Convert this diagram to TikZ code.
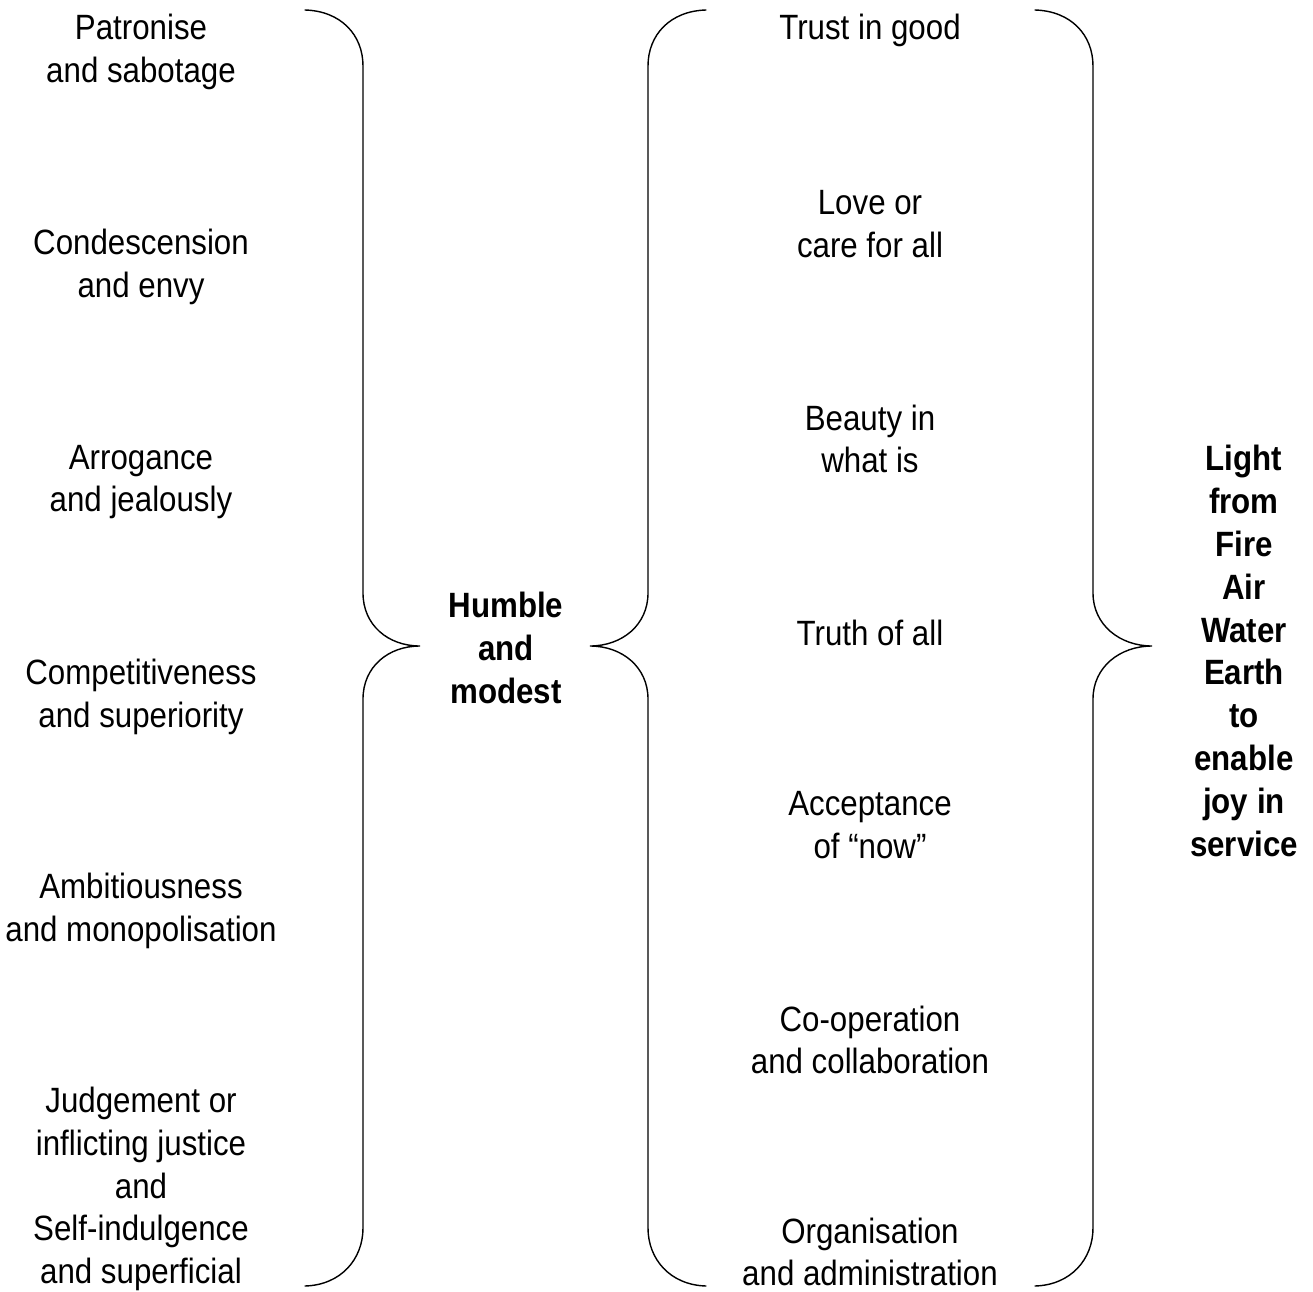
\documentclass[tikz,border=0pt]{standalone}
\usepackage{fontspec}
\setmainfont{Liberation Sans}[FakeStretch=0.89]
\usetikzlibrary{positioning}

\begin{document}
\begin{tikzpicture}[x=0.02cm, y=-0.02cm,
    every node/.style={align=center, inner sep=0pt, yshift=-1.7pt, font=\fontsize{20}{24.4}\selectfont},
    key/.style={font=\fontsize{20}{24.4}\selectfont\bfseries},
    brace/.style={line width=0.8pt, line cap=round}]
    \useasboundingbox (0,0) rectangle (1313,1292);

    % vices on the left
    \node (patronise) at (141,49) {Patronise\\and sabotage};
    \node (condescension) at (141,264) {Condescension\\and envy};
    \node (arrogance) at (141,479) {Arrogance\\and jealously};
    \node (competitive) at (141,694) {Competitiveness\\and superiority};
    \node (ambition) at (141,908) {Ambitiousness\\and monopolisation};
    \node (judgement) at (141,1186) {Judgement or\\inflicting justice\\and\\Self-indulgence\\and superficial};

    \node[key] (humble) at (506,645) {Humble\\and\\modest};

    % virtues on the right
    \node (trust) at (870,27) {Trust in good};
    \node (love) at (870,221) {Love or\\care for all};
    \node (beauty) at (870,436) {Beauty in\\what is};
    \node (truth) at (870,630) {Truth of all};
    \node (acceptance) at (870,822) {Acceptance\\of “now”};
    \node (cooperation) at (870,1037) {Co-operation\\and collaboration};
    \node (organisation) at (870,1249) {Organisation\\and administration};

    \node[key] (light) at (1244,648) {Light\\from\\Fire\\Air\\Water\\Earth\\to\\enable\\joy in\\service};

    % braces
    \draw[brace] (305,10) .. controls (341,11) and (363,35) .. (363,66) -- (363,593)
        .. controls (363,625) and (388,646) .. (420,646)
        .. controls (388,646) and (363,667) .. (363,699) -- (363,1228)
        .. controls (363,1259) and (341,1285) .. (305,1286);
    \draw[brace] (706,10) .. controls (670,11) and (648,35) .. (648,66) -- (648,593)
        .. controls (648,625) and (622,646) .. (590,646)
        .. controls (622,646) and (648,667) .. (648,699) -- (648,1228)
        .. controls (648,1259) and (670,1285) .. (706,1286);
    \draw[brace] (1035,10) .. controls (1071,11) and (1093,35) .. (1093,66) -- (1093,593)
        .. controls (1093,625) and (1120,646) .. (1152,646)
        .. controls (1120,646) and (1093,667) .. (1093,699) -- (1093,1228)
        .. controls (1093,1259) and (1071,1285) .. (1035,1286);
\end{tikzpicture}
\end{document}
